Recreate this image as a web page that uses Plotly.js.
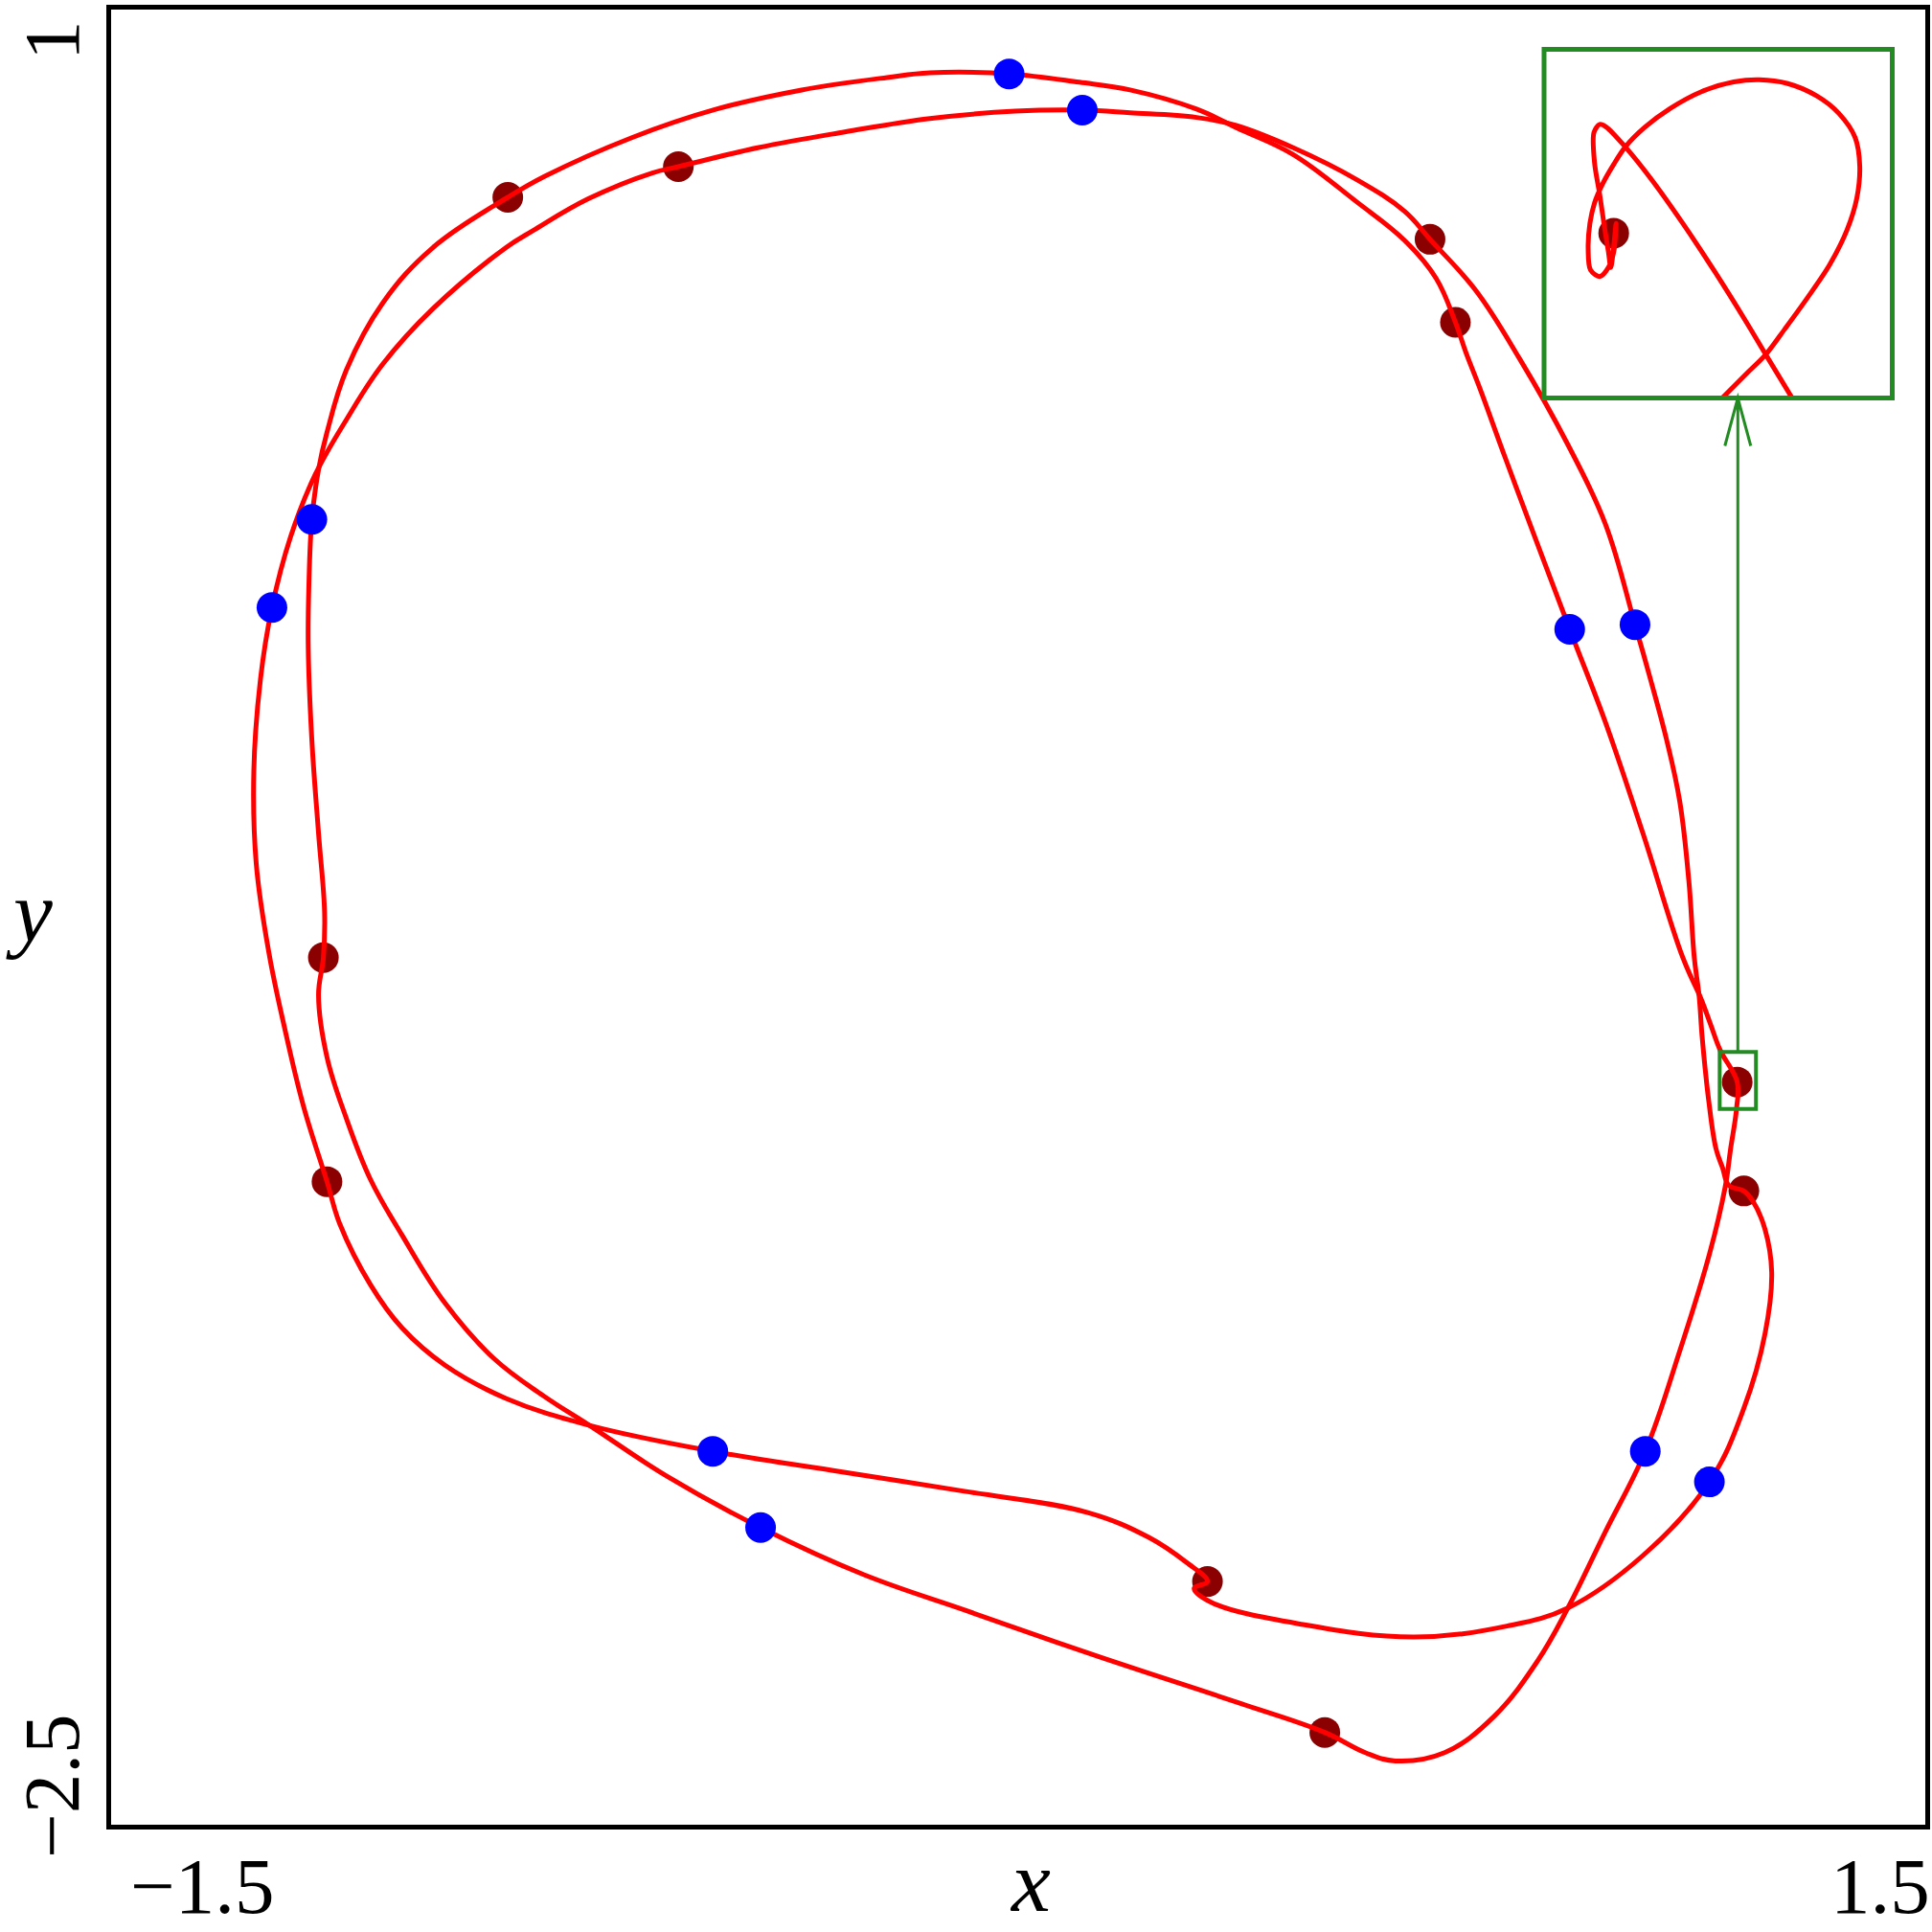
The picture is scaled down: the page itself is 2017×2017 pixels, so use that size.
<!DOCTYPE html>
<html>
<head>
<meta charset="utf-8">
<script src="https://cdn.plot.ly/plotly-3.0.1.min.js"></script>
<style>
  html, body { margin: 0; padding: 0; background: #ffffff; }
  #plot { width: 2017px; height: 2017px; }
</style>
</head>
<body>
<div id="plot"></div>
<script>
// first closed orbit (turning points A, E, F, G, K)
const orbitAX = [-1.149, -1.157, -1.143, -1.111, -1.071, -1.019, -0.948, -0.867, -0.785, -0.709,
  -0.581, -0.426, -0.255, -0.084, 0.065, 0.216, 0.370, 0.507, 0.574, 0.624,
  0.705, 0.787, 0.859, 0.909, 0.971, 1.037, 1.093, 1.143, 1.169, 1.178,
  1.188, 1.189, 1.161, 1.145, 1.129, 1.099, 1.033, 0.971, 0.912, 0.854,
  0.805, 0.764, 0.740, 0.723, 0.691, 0.639, 0.560, 0.454, 0.363, 0.295,
  0.185, 0.101, -0.015, -0.146, -0.217, -0.358, -0.499, -0.639, -0.782, -0.844,
  -0.968, -1.051, -1.111, -1.143, -1.157, -1.168, -1.173, -1.174, -1.168, -1.157,
  -1.147, -1.149];
const orbitAY = [-0.828, -0.900, -1.020, -1.138, -1.256, -1.363, -1.494, -1.601, -1.673, -1.730,
  -1.828, -1.927, -2.018, -2.088, -2.149, -2.208, -2.267, -2.322, -2.361, -2.377,
  -2.361, -2.291, -2.184, -2.082, -1.935, -1.780, -1.590, -1.400, -1.271, -1.197,
  -1.118, -1.068, -1.007, -0.957, -0.907, -0.828, -0.588, -0.374, -0.195, -0.016,
  0.137, 0.268, 0.340, 0.397, 0.482, 0.555, 0.629, 0.721, 0.771, 0.808,
  0.845, 0.860, 0.876, 0.878, 0.869, 0.845, 0.808, 0.753, 0.679, 0.638,
  0.541, 0.434, 0.305, 0.185, 0.113, 0.017, -0.112, -0.230, -0.409, -0.588,
  -0.741, -0.828];

// second closed orbit (turning points B, C, D, H, M)
const orbitBX = [-1.143, -1.122, -1.071, -1.019, -0.948, -0.847, -0.709, -0.505, -0.306, -0.089,
  0.115, 0.216, 0.278, 0.313, 0.291, 0.319, 0.471, 0.655, 0.808, 0.909,
  1.033, 1.143, 1.200, 1.235, 1.246, 1.235, 1.215, 1.200, 1.175, 1.165,
  1.154, 1.142, 1.131, 1.126, 1.118, 1.109, 1.094, 1.072, 1.045, 1.020,
  0.971, 0.909, 0.829, 0.757, 0.681, 0.639, 0.560, 0.454, 0.359, 0.295,
  0.185, 0.106, -0.005, -0.146, -0.287, -0.429, -0.562, -0.605, -0.711, -0.802,
  -0.847, -0.968, -1.051, -1.111, -1.163, -1.203, -1.234, -1.253, -1.264, -1.260,
  -1.239, -1.214, -1.182, -1.143];
const orbitBY = [-1.260, -1.341, -1.459, -1.542, -1.614, -1.678, -1.730, -1.780, -1.817, -1.857,
  -1.898, -1.946, -1.994, -2.031, -2.044, -2.071, -2.114, -2.138, -2.117, -2.082,
  -1.981, -1.839, -1.697, -1.553, -1.435, -1.352, -1.298, -1.278, -1.267, -1.234,
  -1.197, -1.105, -0.981, -0.902, -0.828, -0.680, -0.527, -0.407, -0.289, -0.186,
  0.008, 0.161, 0.327, 0.458, 0.557, 0.611, 0.672, 0.734, 0.777, 0.792,
  0.801, 0.806, 0.804, 0.790, 0.764, 0.734, 0.697, 0.685, 0.635, 0.574,
  0.541, 0.423, 0.316, 0.209, 0.102, -0.016, -0.153, -0.291, -0.468, -0.647,
  -0.819, -0.959, -1.114, -1.260];

// turning points (dark red) and mid points (blue)
const turnX = [-1.149, -1.143, 0.313, 1.200, 0.507, 1.189, 0.723, 0.681, -0.844, -0.562];
const turnY = [-0.828, -1.260, -2.031, -1.278, -2.322, -1.068, 0.397, 0.557, 0.638, 0.697];
const midX = [-0.015, 0.106, -1.168, -1.234, -0.505, -0.426, 1.037, 1.143, 0.912, 1.020];
const midY = [0.876, 0.806, 0.017, -0.153, -1.780, -1.927, -1.780, -1.839, -0.195, -0.186];

// zoomed piece of the first orbit around turning point F
const zoomX = [1.2212, 1.2152, 1.2119, 1.2064, 1.2009, 1.1954, 1.1910, 1.1877, 1.1866, 1.1856,
  1.1857, 1.1866, 1.1874, 1.1881, 1.1885, 1.1894, 1.1890, 1.1881, 1.1866, 1.1850,
  1.1846, 1.1849, 1.1857, 1.1871, 1.1890, 1.1910, 1.1943, 1.1987, 1.2042, 1.2097,
  1.2141, 1.2190, 1.2240, 1.2278, 1.2306, 1.2314, 1.2309, 1.2292, 1.2262, 1.2223,
  1.2185, 1.2152, 1.2119, 1.2064];
const zoomY = [-1.1244, -1.1063, -1.0962, -1.0801, -1.0649, -1.0508, -1.0408, -1.0345, -1.0337, -1.0362,
  -1.0458, -1.0559, -1.0660, -1.0740, -1.0788, -1.0649, -1.0740, -1.0788, -1.0817, -1.0796,
  -1.0730, -1.0649, -1.0584, -1.0524, -1.0463, -1.0408, -1.0347, -1.0287, -1.0233, -1.0203,
  -1.0196, -1.0208, -1.0247, -1.0302, -1.0378, -1.0468, -1.0569, -1.0670, -1.0780, -1.0886,
  -1.0982, -1.1063, -1.1123, -1.1224];
const zoomTurnIndex = 5;

const xRange = [-1.5, 1.5];
const yRange = [-2.5, 1];
const xTickText = ["\u22121.5", "1.5"];
const yTickText = ["\u22122.5", "1"];
const zoomBoxX = [1.16, 1.22];
const zoomBoxY = [-1.12, -1.01];
const zoomRangeX = [1.177, 1.237];
const zoomRangeY = [-1.12, -1.01];

const plotBox = { l: 116, t: 10, w: 1894, h: 1895 };
const serif = "Liberation Serif, Times New Roman, serif";
const green = "#228b22";

function paperX(px) {
  return (px - plotBox.l) / plotBox.w;
}

function paperY(py) {
  return 1 - (py - plotBox.t) / plotBox.h;
}

function dataToPaperX(x) {
  return (x - xRange[0]) / (xRange[1] - xRange[0]);
}

function dataToPaperY(y) {
  return (y - yRange[0]) / (yRange[1] - yRange[0]);
}

const insetDomainX = [paperX(1612), paperX(1975.5)];
const insetDomainY = [paperY(415.5), paperY(51.5)];

function orbitTrace(xs, ys, axes, smoothing) {
  return {
    x: xs,
    y: ys,
    type: "scatter",
    mode: "lines",
    line: { color: "#ff0000", width: 5, shape: "spline", smoothing: smoothing || 1.1 },
    xaxis: axes ? axes[0] : "x",
    yaxis: axes ? axes[1] : "y",
    hoverinfo: "skip",
  };
}

function dotTrace(xs, ys, color, axes) {
  return {
    x: xs,
    y: ys,
    type: "scatter",
    mode: "markers",
    marker: { color: color, size: 32 },
    xaxis: axes ? axes[0] : "x",
    yaxis: axes ? axes[1] : "y",
    hoverinfo: "skip",
    cliponaxis: false,
  };
}

const traces = [
  dotTrace(turnX, turnY, "#8b0000"),
  orbitTrace(orbitAX, orbitAY),
  orbitTrace(orbitBX, orbitBY),
  dotTrace(midX, midY, "#0000ff"),
  dotTrace([turnX[zoomTurnIndex]], [turnY[zoomTurnIndex]], "#8b0000", ["x2", "y2"]),
  orbitTrace(zoomX, zoomY, ["x2", "y2"], 0.9),
];

function labelNote(text, px, py, size, extra) {
  return Object.assign({
    text: text,
    xref: "paper",
    yref: "paper",
    x: paperX(px),
    y: paperY(py),
    xanchor: "center",
    yanchor: "middle",
    borderpad: 0,
    showarrow: false,
    font: { family: serif, size: size, color: "#000000" },
  }, extra || {});
}

const italic = { family: serif, size: 92, color: "#000000", style: "italic" };

const annotations = [
  labelNote(xTickText[0], 211, 1969, 83),
  labelNote(xTickText[1], 1963, 1969, 83),
  labelNote(yTickText[0], 54, 1865, 83, { textangle: -90 }),
  labelNote(yTickText[1], 54, 42, 83, { textangle: -90 }),
  labelNote("x", 1075, 1964, 92, { font: italic }),
  labelNote("y", 30, 952, 92, { font: italic }),
];

const boxMidX = dataToPaperX((zoomBoxX[0] + zoomBoxX[1]) / 2);
const tailY = dataToPaperY(zoomBoxY[1]);
const tipY = insetDomainY[0];
const wingDx = 13.5 / plotBox.w;
const wingDy = 50 / plotBox.h;

const shapes = [
  {
    type: "rect",
    xref: "x",
    yref: "y",
    x0: zoomBoxX[0],
    x1: zoomBoxX[1],
    y0: zoomBoxY[0],
    y1: zoomBoxY[1],
    line: { color: green, width: 4 },
    layer: "above",
  },
  {
    type: "rect",
    xref: "paper",
    yref: "paper",
    x0: insetDomainX[0],
    x1: insetDomainX[1],
    y0: insetDomainY[0],
    y1: insetDomainY[1],
    line: { color: green, width: 5 },
    layer: "above",
  },
  {
    type: "path",
    xref: "paper",
    yref: "paper",
    path: `M${boxMidX},${tailY} L${boxMidX},${tipY} M${boxMidX - wingDx},${tipY - wingDy} L${boxMidX},${tipY} L${boxMidX + wingDx},${tipY - wingDy}`,
    line: { color: green, width: 3 },
    layer: "above",
  },
];

const hiddenAxis = {
  showgrid: false,
  zeroline: false,
  showticklabels: false,
  ticks: "",
};

Plotly.newPlot("plot", traces, {
  width: 2017,
  height: 2017,
  paper_bgcolor: "#ffffff",
  plot_bgcolor: "#ffffff",
  showlegend: false,
  margin: {
    l: plotBox.l,
    t: plotBox.t,
    r: 2017 - plotBox.l - plotBox.w,
    b: 2017 - plotBox.t - plotBox.h,
  },
  xaxis: Object.assign({}, hiddenAxis, {
    range: xRange,
    showline: true,
    mirror: true,
    linecolor: "#000000",
    linewidth: 5,
  }),
  yaxis: Object.assign({}, hiddenAxis, {
    range: yRange,
    showline: true,
    mirror: true,
    linecolor: "#000000",
    linewidth: 5,
  }),
  xaxis2: Object.assign({}, hiddenAxis, {
    domain: insetDomainX,
    anchor: "y2",
    range: zoomRangeX,
  }),
  yaxis2: Object.assign({}, hiddenAxis, {
    domain: insetDomainY,
    anchor: "x2",
    range: zoomRangeY,
  }),
  annotations: annotations,
  shapes: shapes,
}, {
  staticPlot: true,
  displayModeBar: false,
});
</script>
</body>
</html>
